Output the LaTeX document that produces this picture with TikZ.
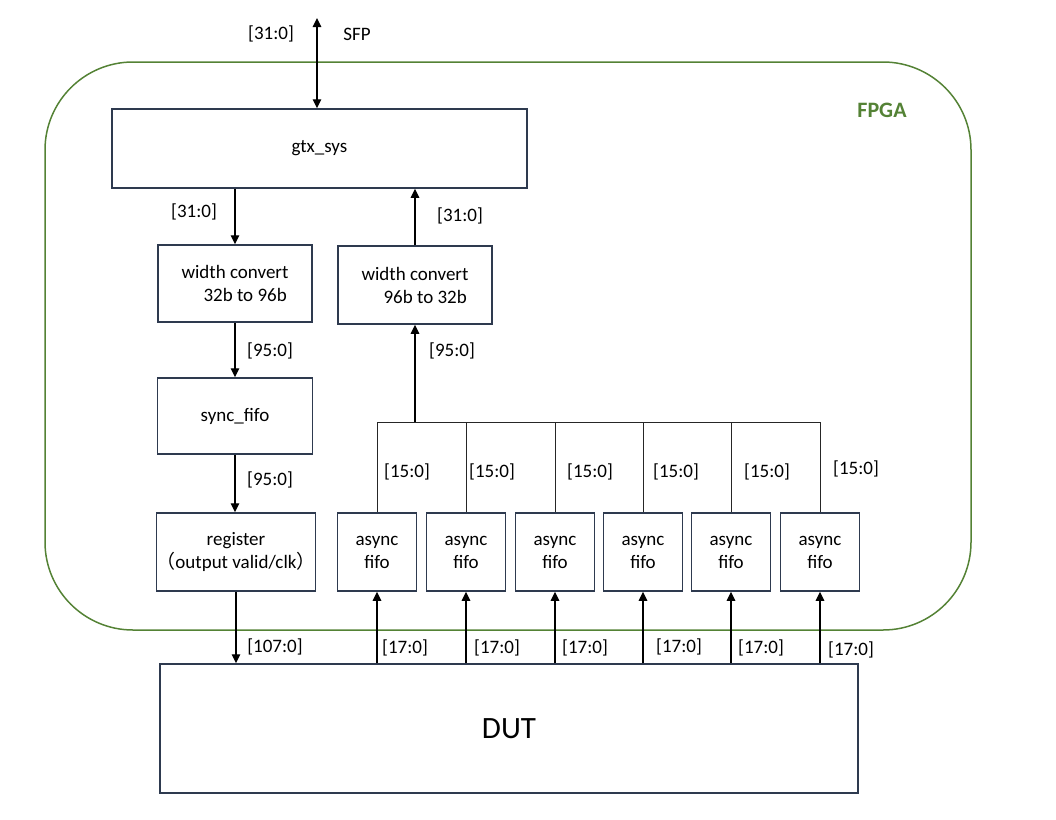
\documentclass[tikz,border=0pt]{standalone}
\usepackage{fontspec}
\setmainfont{Carlito}
\newfontfamily\cjkfont{Noto Sans CJK SC}
\usetikzlibrary{arrows.meta}
\definecolor{boxc}{HTML}{2E3A4F}
\definecolor{fpgac}{HTML}{548235}
\tikzset{
  blk/.style={draw=boxc, line width=1.5pt, fill=white, inner sep=0pt, font=\fontsize{19}{23}\selectfont},
  lbl/.style={inner sep=0pt, font=\fontsize{19}{23}\selectfont},
  arr/.style={line width=1.4pt, -{Triangle[length=9pt,width=8.5pt]}},
  darr/.style={line width=1.4pt, {Triangle[length=9pt,width=8.5pt]}-{Triangle[length=9pt,width=8.5pt]}},
  bus/.style={line width=1pt, draw=black!85},
}
\begin{document}
\begin{tikzpicture}[x=1pt,y=-1pt]
\useasboundingbox (0,0) rectangle (1056,819);
% FPGA region
\draw[fpgac, line width=1.5pt, rounded corners=88pt] (45,62) rectangle (971,630);
\node[font=\fontsize{22}{26}\selectfont\bfseries, text=fpgac, inner sep=0pt] (fpga) at (882,110) {FPGA};

% blocks
\node[blk, minimum width=415pt, minimum height=79pt] (gtx) at (319.5,148.5) {gtx\_sys};
\node[blk, minimum width=154pt, minimum height=77pt, align=left] (wc1) at (235,283.5) {width convert\\\hspace*{22pt}32b to 96b};
\node[blk, minimum width=154pt, minimum height=78pt, align=left] (wc2) at (415,285) {width convert\\\hspace*{22pt}96b to 32b};
\node[blk, minimum width=155pt, minimum height=76pt] (sync) at (235,416) {sync\_fifo};
\node[blk, minimum width=155pt, minimum height=78pt, align=center] (reg) at (236,552) {register\\{\cjkfont （}output valid/clk{\cjkfont ）}};
\foreach \i/\x in {1/377,2/466,3/555,4/643,5/731,6/820}{
  \node[blk, minimum width=79pt, minimum height=78pt, align=center] (af\i) at (\x,552) {async\\fifo};
}
\node[blk, minimum width=698pt, minimum height=129pt, font=\fontsize{31}{37}\selectfont] (dut) at (509,728.5) {DUT};

% SFP
\coordinate (sfp) at (317,18);
\draw[darr] (sfp) -- (sfp |- gtx.north);
\node[lbl] (l0) at (271,34) {[31:0]};
\node[lbl] (lsfp) at (357,34) {SFP};

% left chain
\draw[arr] (wc1.north |- gtx.south) -- (wc1.north);
\node[lbl] (l1) at (194,212) {[31:0]};
\draw[arr] (wc1.south) -- (wc1.south |- sync.north);
\node[lbl] (l2) at (270,351) {[95:0]};
\draw[arr] (sync.south) -- (sync.south |- reg.north);
\node[lbl] (l3) at (270,480) {[95:0]};
\draw[arr] (reg.south) -- (reg.south |- dut.north);
\node[lbl] (l4) at (275,647) {[107:0]};

% right chain
\draw[arr] (wc2.north) -- (wc2.north |- gtx.south);
\node[lbl] (l5) at (460,216) {[31:0]};
\coordinate (busc) at (415,422);
\draw[arr] (busc) -- (wc2.south);
\node[lbl] (l6) at (452,351) {[95:0]};
\draw[bus] (af1.north |- busc) -- (af6.north |- busc);
\foreach \i in {1,...,6}{
  \draw[bus] (af\i.north |- busc) -- (af\i.north);
  \draw[arr] (af\i.south |- dut.north) -- (af\i.south);
}
\foreach \x/\y [count=\k] in {407/472,492/472,590/472,676/472,767/472,856/469}{
  \node[lbl] (m\k) at (\x,\y) {[15:0]};
}
\foreach \x/\y [count=\k] in {405/648,497/648,585/648,679/647,761/648,851/650}{
  \node[lbl] (n\k) at (\x,\y) {[17:0]};
}
\end{tikzpicture}
\end{document}
